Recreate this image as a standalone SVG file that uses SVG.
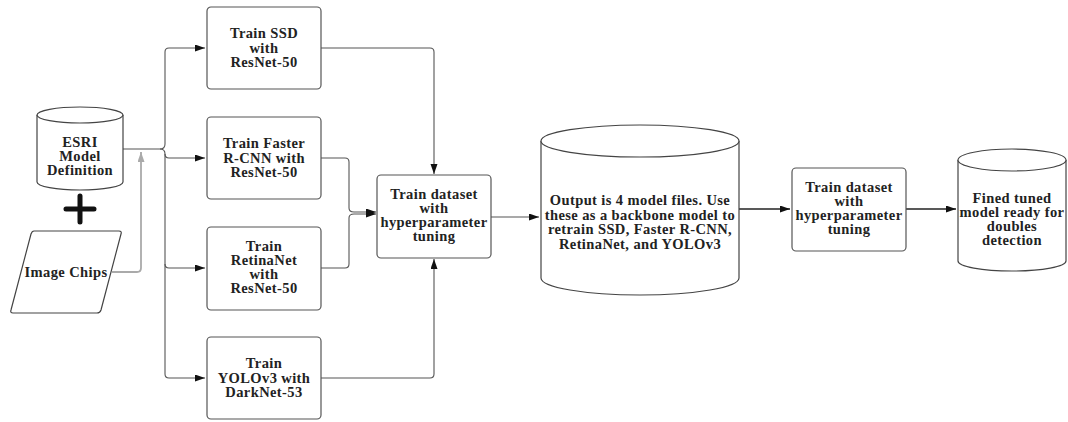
<svg xmlns="http://www.w3.org/2000/svg" width="1068" height="422" viewBox="0 0 1068 422">
  <style>
    .box { fill: #ffffff; stroke: #555555; stroke-width: 1.2; }
    .shape { fill: #ffffff; stroke: #444444; stroke-width: 1.2; }
    .lbl { font-family: "Liberation Serif", "Times New Roman", serif; font-weight: bold; font-size: 14.5px; letter-spacing: 0.4px; fill: #222222; text-anchor: middle; }
    .wire { fill: none; stroke: #555555; stroke-width: 1.1; }
    .wire-dark { fill: none; stroke: #222222; stroke-width: 1.3; }
    .wire-gray { fill: none; stroke: #aaaaaa; stroke-width: 1.8; }
  </style>
  <defs>
    <marker id="arrow" markerUnits="userSpaceOnUse" markerWidth="11" markerHeight="8" refX="10" refY="3.5" orient="auto">
      <path d="M0,0 L10,3.5 L0,7 Z" fill="#111111"/>
    </marker>
    <marker id="arrow-gray" markerUnits="userSpaceOnUse" markerWidth="11" markerHeight="8" refX="10" refY="3.5" orient="auto">
      <path d="M0,0 L10,3.5 L0,7 Z" fill="#aaaaaa"/>
    </marker>
  </defs>

  <rect width="1068" height="422" fill="#ffffff"/>

  <!-- connectors -->
  <g id="connectors">
    <!-- fan-out trunk from the model definition -->
    <path class="wire" d="M123,149 H160 Q165,149 165,144 V52 Q165,48 169,48 H205" marker-end="url(#arrow)"/>
    <path class="wire" d="M160,149 Q165,149 165,154 Q165,158 169,158 H205" marker-end="url(#arrow)"/>
    <path class="wire" d="M165,154 V264 Q165,268 169,268 H205" marker-end="url(#arrow)"/>
    <path class="wire" d="M165,264 V374 Q165,378 169,378 H205" marker-end="url(#arrow)"/>
    <!-- image chips joining the trunk -->
    <path class="wire-gray" d="M112,272 H137 Q141,272 141,268 V152" marker-end="url(#arrow-gray)"/>
    <!-- four trainers into the first tuning step -->
    <path class="wire" d="M321,48 H430 Q434,48 434,52 V174" marker-end="url(#arrow)"/>
    <path class="wire" d="M321,158 H345 Q349,158 349,162 V208 Q349,212 354,212 H376" marker-end="url(#arrow)"/>
    <path class="wire" d="M321,268 H345 Q349,268 349,264 V218 Q349,214 354,214 H376" marker-end="url(#arrow)"/>
    <path class="wire" d="M321,378 H430 Q434,378 434,374 V259" marker-end="url(#arrow)"/>
    <!-- main pipeline -->
    <path class="wire" d="M491,217 H539" marker-end="url(#arrow)"/>
    <path class="wire-dark" d="M739,209 H790" marker-end="url(#arrow)"/>
    <path class="wire-dark" d="M906,209 H956" marker-end="url(#arrow)"/>
  </g>

  <!-- model definition store -->
  <g id="esri-model">
    <path class="shape" d="M37,115 A43,8 0 0 1 123,115 L123,182 A43,8 0 0 1 37,182 Z"/>
    <path class="shape" d="M37,115 A43,8 0 0 0 123,115" fill="none"/>
    <text class="lbl" x="80" y="147">ESRI</text>
    <text class="lbl" x="80" y="161">Model</text>
    <text class="lbl" x="80" y="175">Definition</text>
  </g>

  <!-- plus sign -->
  <g id="plus">
    <path d="M66,209 H94 M80,196 V222" stroke="#111111" stroke-width="5" stroke-linecap="round" fill="none"/>
  </g>

  <!-- image chips input -->
  <g id="image-chips">
    <path class="shape" d="M34,231 H119 Q122,231 121,234 L101,310 Q100,313 97,313 H13 Q10,313 11,310 L31,234 Q32,231 34,231 Z"/>
    <text class="lbl" x="66" y="277">Image Chips</text>
  </g>

  <g id="train-ssd">
    <rect class="box" x="207" y="7" width="114" height="82" rx="4"/>
    <text class="lbl" x="264" y="38">Train SSD</text>
    <text class="lbl" x="264" y="52.5">with</text>
    <text class="lbl" x="264" y="67">ResNet-50</text>
  </g>

  <g id="train-faster-rcnn">
    <rect class="box" x="207" y="117" width="114" height="82" rx="4"/>
    <text class="lbl" x="264" y="148">Train Faster</text>
    <text class="lbl" x="264" y="162.5">R-CNN with</text>
    <text class="lbl" x="264" y="177">ResNet-50</text>
  </g>

  <g id="train-retinanet">
    <rect class="box" x="207" y="227" width="114" height="83" rx="4"/>
    <text class="lbl" x="264" y="251">Train</text>
    <text class="lbl" x="264" y="265">RetinaNet</text>
    <text class="lbl" x="264" y="279">with</text>
    <text class="lbl" x="264" y="293">ResNet-50</text>
  </g>

  <g id="train-yolov3">
    <rect class="box" x="207" y="337" width="114" height="82" rx="4"/>
    <text class="lbl" x="264" y="368">Train</text>
    <text class="lbl" x="264" y="382.5">YOLOv3 with</text>
    <text class="lbl" x="264" y="397">DarkNet-53</text>
  </g>

  <g id="tune-1">
    <rect class="box" x="377" y="175" width="114" height="83" rx="4"/>
    <text class="lbl" x="434" y="199">Train dataset</text>
    <text class="lbl" x="434" y="213">with</text>
    <text class="lbl" x="434" y="227">hyperparameter</text>
    <text class="lbl" x="434" y="241">tuning</text>
  </g>

  <g id="model-files">
    <path class="shape" d="M541,141 A99,16 0 0 1 739,141 L739,278 A99,17 0 0 1 541,278 Z"/>
    <path class="shape" d="M541,141 A99,16 0 0 0 739,141" fill="none"/>
    <text class="lbl" x="640" y="205">Output is 4 model files. Use</text>
    <text class="lbl" x="640" y="219.5">these as a backbone model to</text>
    <text class="lbl" x="640" y="234">retrain SSD, Faster R-CNN,</text>
    <text class="lbl" x="640" y="248.5">RetinaNet, and YOLOv3</text>
  </g>

  <g id="tune-2">
    <rect class="box" x="792" y="168" width="114" height="83" rx="4"/>
    <text class="lbl" x="849" y="192">Train dataset</text>
    <text class="lbl" x="849" y="206">with</text>
    <text class="lbl" x="849" y="220">hyperparameter</text>
    <text class="lbl" x="849" y="234">tuning</text>
  </g>

  <g id="final-model">
    <path class="shape" d="M958,160 A54,11 0 0 1 1066,160 L1066,261 A54,10 0 0 1 958,261 Z"/>
    <path class="shape" d="M958,160 A54,11 0 0 0 1066,160" fill="none"/>
    <text class="lbl" x="1012" y="203">Fined tuned</text>
    <text class="lbl" x="1012" y="217">model ready for</text>
    <text class="lbl" x="1012" y="231">doubles</text>
    <text class="lbl" x="1012" y="245">detection</text>
  </g>
</svg>
